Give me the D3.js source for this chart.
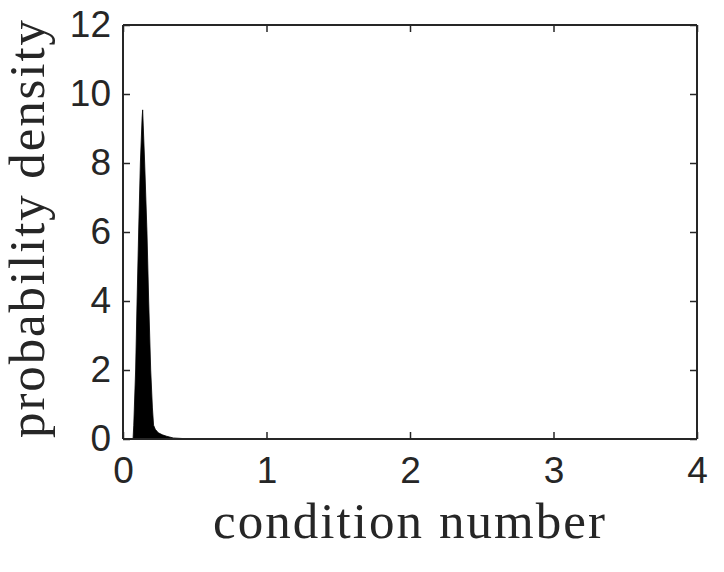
<!DOCTYPE html>
<html>
<head>
<meta charset="utf-8">
<script src="https://cdn.jsdelivr.net/npm/d3@7"></script>
<style>
  body { margin: 0; background: #fff; }
</style>
</head>
<body>
<div id="chart"></div>
<script>
const width = 724;
const height = 572;

// density curve
const condX   = [0.07, 0.075, 0.088, 0.098, 0.109, 0.121, 0.133, 0.137, 0.141, 0.151, 0.167, 0.179, 0.193, 0.205, 0.213, 0.225, 0.246, 0.275, 0.304, 0.35, 0.45, 3.7];
const density = [0,    0.4,   2,     4,     6,     8,     9.3,   9.54,  9.1,   8,     6,     4,     2,     0.9,   0.4,   0.28,  0.18,  0.12,  0.08,  0.03, 0.005, 0];

const xTicks = [0, 1, 2, 3, 4];
const yTicks = [0, 2, 4, 6, 8, 10, 12];

const margin = {left: 123, right: 27, top: 25, bottom: 133};
const axisColor = "#262626";

const svg = d3.select("#chart")
  .append("svg")
  .attr("width", width)
  .attr("height", height);

const x = d3.scaleLinear().domain([0, 4]).range([margin.left, width - margin.right]);
const y = d3.scaleLinear().domain([0, 12]).range([height - margin.bottom, margin.top]);

const points = condX.map((d, i) => ({x: d, y: density[i]}));

// filled density
const area = d3.area()
  .x(d => x(d.x))
  .y0(y(0))
  .y1(d => y(d.y));

svg.append("path")
  .datum(points)
  .attr("d", area)
  .attr("fill", "#000")
  .attr("stroke", "#000")
  .attr("stroke-width", 0.8);

// axes, ticks pointing inward like matlab
const tickLen = 7;
const fontTicks = "'Liberation Sans', Arial, sans-serif";

const bottomAxis = d3.axisBottom(x).tickValues(xTicks).tickSize(-tickLen).tickPadding(18).tickFormat(d3.format("d"));
const topAxis = d3.axisTop(x).tickValues(xTicks).tickSize(-tickLen).tickFormat("");
const leftAxis = d3.axisLeft(y).tickValues(yTicks).tickSize(-tickLen).tickPadding(12).tickFormat(d3.format("d"));
const rightAxis = d3.axisRight(y).tickValues(yTicks).tickSize(-tickLen).tickFormat("");

function styleAxis(g) {
  g.selectAll("path").attr("stroke", axisColor).attr("stroke-width", 2);
  g.selectAll("line").attr("stroke", axisColor).attr("stroke-width", 1.5);
  g.selectAll("text")
    .attr("fill", axisColor)
    .style("font-family", fontTicks)
    .style("font-size", "37px");
}

svg.append("g")
  .attr("transform", `translate(0,${y(0)})`)
  .call(bottomAxis)
  .call(styleAxis)
  .call(g => g.select(".domain").attr("d", `M${x(0)},0H${x(4)}`));

svg.append("g")
  .attr("transform", `translate(0,${y(12)})`)
  .call(topAxis)
  .call(styleAxis)
  .call(g => g.select(".domain").attr("d", `M${x(0)},0H${x(4)}`));

svg.append("g")
  .attr("transform", `translate(${x(0)},0)`)
  .call(leftAxis)
  .call(styleAxis)
  .call(g => g.select(".domain").attr("d", `M0,${y(0)}V${y(12)}`));

svg.append("g")
  .attr("transform", `translate(${x(4)},0)`)
  .call(rightAxis)
  .call(styleAxis)
  .call(g => g.select(".domain").attr("d", `M0,${y(0)}V${y(12)}`));

// axis labels (serif, stretched to the reference's length)
const fontLabel = "'Liberation Serif', 'DejaVu Serif', serif";

svg.append("text")
  .attr("x", 409)
  .attr("y", 538)
  .attr("text-anchor", "middle")
  .attr("fill", axisColor)
  .attr("textLength", 392)
  .attr("lengthAdjust", "spacing")
  .style("font-family", fontLabel)
  .style("font-size", "51px")
  .text("condition number");

svg.append("text")
  .attr("transform", "translate(44,229) rotate(-90)")
  .attr("text-anchor", "middle")
  .attr("fill", axisColor)
  .attr("textLength", 418)
  .attr("lengthAdjust", "spacing")
  .style("font-family", fontLabel)
  .style("font-size", "51px")
  .text("probability density");
</script>
</body>
</html>
